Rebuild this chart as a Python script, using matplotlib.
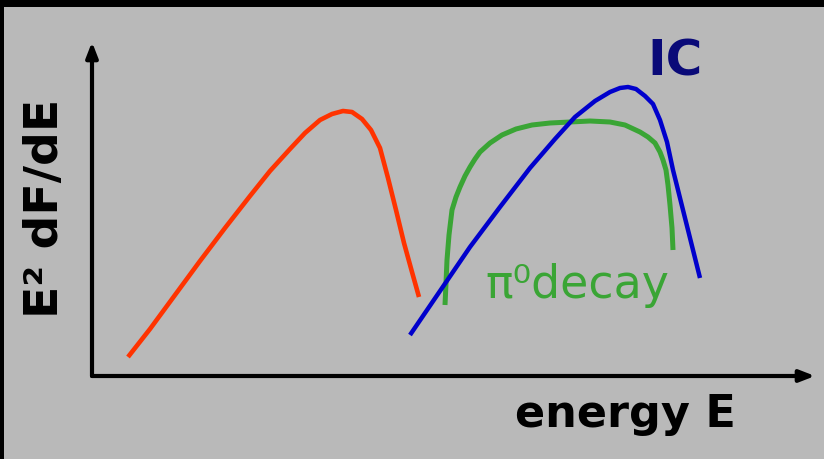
import matplotlib
matplotlib.use("Agg")
import matplotlib.pyplot as plt
from matplotlib.patches import Rectangle

# spectral energy distribution sketch, arbitrary units
red_e = [36, 58, 83, 108, 133, 158, 178, 198, 213, 228, 240, 251, 260, 270, 279,
         288, 296, 304, 312, 320, 327]
red_f = [19, 47, 81, 115, 148, 180, 205, 227, 243, 256, 262, 265, 264, 257, 246,
         228, 198, 166, 133, 104, 79]

ic_e = [318, 348, 378, 408, 438, 463, 483, 503, 518, 528, 536, 544, 553, 561, 568,
        575, 581, 588, 595, 602, 608]
ic_f = [41, 85, 129, 169, 208, 237, 259, 275, 284, 288, 289, 287, 280, 272, 256,
        234, 206, 178, 150, 122, 98]

pi_e = [353, 354, 355, 357, 360, 364, 368, 373, 378, 383, 388, 398, 410, 424, 440,
        458, 478, 498, 518, 533, 548, 556, 563, 568, 571, 574, 576, 578, 580, 581]
pi_f = [71, 93, 116, 141, 166, 179, 189, 200, 209, 217, 224, 233, 241, 247, 251,
        253, 254, 255, 254, 251, 244, 239, 233, 224, 216, 206, 191, 171, 148, 126]

bg = "#b9b9b9"
fig = plt.figure(figsize=(8.24, 4.59), dpi=100, facecolor=bg)

# black frame along top and left edges
fig.patches.append(Rectangle((0, 1 - 7 / 459), 1, 7 / 459, transform=fig.transFigure,
                             facecolor="black", edgecolor="none"))
fig.patches.append(Rectangle((0, 0), 4 / 824, 1, transform=fig.transFigure,
                             facecolor="black", edgecolor="none"))

ax = fig.add_axes([92 / 824, 83 / 459, 723 / 824, 334 / 459])
ax.set_facecolor("none")
ax.set_xlim(0, 723)
ax.set_ylim(0, 334)
ax.axis("off")

# axis arrows
arrow = dict(arrowstyle="-|>,head_length=0.9,head_width=0.35", color="black", lw=3,
             shrinkA=0, shrinkB=0)
ax.annotate("", xy=(0, 334), xytext=(0, 0), arrowprops=arrow, annotation_clip=False)
ax.annotate("", xy=(723, 0), xytext=(0, 0), arrowprops=arrow, annotation_clip=False)

ax.plot(red_e, red_f, color="#ff3300", lw=3.3, solid_capstyle="butt",
        solid_joinstyle="round", clip_on=False)
ax.plot(pi_e, pi_f, color="#3aa535", lw=3.6, solid_capstyle="butt",
        solid_joinstyle="round", clip_on=False)
ax.plot(ic_e, ic_f, color="#0000cc", lw=3.2, solid_capstyle="butt",
        solid_joinstyle="round", clip_on=False)

ax.text(583, 314, "IC", color="#0a0a78", fontsize=36, fontweight="bold",
        ha="center", va="center", clip_on=False)
ax.text(393, 78, "π⁰decay", color="#3aa535", fontsize=33, ha="left", va="baseline",
        clip_on=False)
ax.text(533, -51, "energy E", color="black", fontsize=32, fontweight="bold",
        ha="center", va="baseline", clip_on=False)
ax.text(-46, 168, "E² dF/dE", color="black", fontsize=34, fontweight="bold",
        rotation=90, ha="center", va="center", clip_on=False)

fig.savefig("out.png", dpi=100, facecolor=bg)
